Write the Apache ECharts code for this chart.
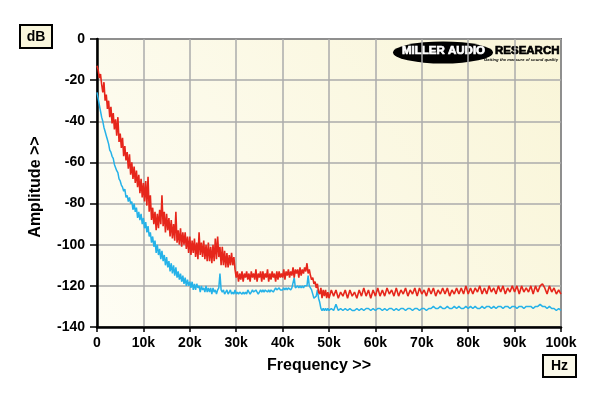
<!DOCTYPE html>
<html>
<head>
<meta charset="utf-8">
<script src="https://cdn.jsdelivr.net/npm/echarts@6/dist/echarts.min.js"></script>
<style>
html,body{margin:0;padding:0;background:#ffffff;}
#chart{width:600px;height:396px;}
</style>
</head>
<body>
<div id="chart"></div>
<script>
// Readings: 0 - 49.75 kHz every 0.25 kHz (low band), 50 - 100 kHz every 0.5 kHz (high band)
const lowStartKHz = 0, lowStepKHz = 0.25;
const highStartKHz = 50, highStepKHz = 0.5;

const xTicks = ['0','10k','20k','30k','40k','50k','60k','70k','80k','90k','100k'];
const yTicks = [0,-20,-40,-60,-80,-100,-120,-140];

// Red trace (dB), 0 - 49.75 kHz
const redLowDb = [
  // 0 - 9.75k
  -13,-15,-19,-17, -22,-26,-21,-30, -27,-34,-30,-38, -33,-41,-36,-44, -39,-47,-38,-50,
  -46,-53,-48,-57, -52,-59,-55,-63, -56,-66,-60,-68, -62,-70,-64,-72, -66,-75,-68,-77,
  // 10 - 19.75k
  -70,-79,-69,-81, -67,-84,-76,-88, -82,-90,-84,-93, -85,-92,-83,-90, -76,-91,-84,-94,
  -85,-93,-87,-96, -88,-97,-90,-98, -84,-99,-93,-100, -92,-101,-94,-100, -94,-102,-96,-104,
  // 20 - 29.75k
  -96,-105,-98,-104, -97,-106,-99,-107, -94,-105,-99,-106, -98,-107,-100,-108, -99,-108,-101,-109,
  -100,-108,-97,-107, -96,-106,-101,-110, -101,-110,-103,-111, -104,-111,-105,-110, -104,-110,-106,-112,
  // 30 - 39.75k
  -116,-113,-118,-114, -117,-113,-118,-114, -116,-113,-117,-114, -118,-113,-116,-114, -117,-112,-118,-114,
  -116,-113,-118,-113, -117,-114,-116,-112, -118,-114,-117,-113, -116,-114,-118,-113, -117,-113,-116,-114,
  // 40 - 49.75k
  -116,-112,-117,-113, -115,-112,-116,-113, -115,-111,-116,-112, -114,-112,-116,-111, -115,-112,-114,-111,
  -113,-109,-114,-112, -115,-117,-116,-119, -118,-121,-119,-123, -124,-121,-126,-122, -125,-122,-126,-123
];
// Red trace (dB), 50 - 100 kHz
const redHighDb = [
  -126,-122,-125,-122,-126,-123,-125,-122,-126,-122,-125,-123,-126,-122,-125,-121,-125,-122,-126,-122,
  -125,-121,-125,-122,-125,-121,-124,-122,-125,-121,-125,-122,-124,-121,-125,-122,-124,-121,-125,-121,
  -124,-122,-125,-121,-124,-121,-125,-122,-124,-121,-124,-121,-125,-122,-124,-121,-124,-121,-124,-120,
  -124,-121,-124,-121,-123,-120,-124,-121,-124,-120,-123,-121,-124,-120,-123,-120,-124,-121,-123,-120,
  -123,-120,-124,-120,-123,-121,-123,-120,-124,-120,-123,-120,-119,-121,-124,-120,-123,-121,-124,-122,
  -124
];

// Blue trace (dB), 0 - 49.75 kHz
const blueLowDb = [
  // 0 - 9.75k
  -26,-29,-32,-35, -38,-40,-43,-45, -47,-49,-51,-54, -55,-57,-58,-61, -61,-64,-65,-68,
  -69,-71,-72,-74, -73,-77,-76,-79, -77,-80,-79,-83, -80,-84,-82,-87, -84,-88,-85,-90,
  // 10 - 19.75k
  -87,-92,-89,-94, -91,-96,-94,-99, -96,-101,-98,-104, -100,-105,-102,-107, -103,-108,-105,-110,
  -106,-111,-108,-113, -109,-114,-110,-115, -111,-116,-113,-117, -114,-118,-115,-119, -116,-120,-117,-120,
  // 20 - 29.75k
  -118,-121,-118,-122, -119,-122,-119,-121, -120,-123,-120,-122, -121,-123,-120,-123, -121,-123,-121,-124,
  -121,-123,-122,-124, -122,-121,-114,-122, -123,-122,-124,-123, -122,-124,-123,-122, -124,-123,-124,-122,
  // 30 - 39.75k
  -124,-123,-124,-123, -123,-124,-123,-124, -123,-124,-122,-123, -124,-123,-122,-123, -123,-122,-123,-124,
  -123,-122,-123,-122, -123,-122,-122,-123, -122,-123,-122,-122, -123,-122,-121,-122, -122,-121,-122,-122,
  // 40 - 49.75k
  -122,-121,-122,-121, -122,-121,-121,-122, -121,-121,-116,-121, -121,-120,-121,-120, -121,-120,-121,-120,
  -120,-120,-115,-120, -121,-122,-124,-126, -126,-125,-122,-126, -128,-131,-132,-131, -132,-131,-132,-131
];
// Blue trace (dB), 50 - 100 kHz
const blueHighDb = [
  -132,-131,-132,-129,-132,-131,-132,-131,-132,-131,-132,-132,-131,-132,-131,-132,-131,-131,-132,-131,
  -132,-131,-131,-132,-131,-132,-131,-131,-132,-131,-132,-131,-131,-132,-131,-131,-132,-131,-131,-132,
  -131,-131,-132,-131,-131,-130,-131,-131,-130,-131,-131,-130,-131,-131,-130,-131,-130,-131,-131,-130,
  -131,-130,-131,-130,-131,-131,-130,-131,-130,-130,-131,-130,-131,-130,-130,-131,-130,-130,-131,-130,
  -130,-131,-130,-130,-131,-130,-130,-130,-131,-130,-130,-129,-130,-130,-131,-130,-131,-131,-132,-131,
  -132
];

function toPairs(lowVals, highVals){
  const a = lowVals.map((v,i)=>[lowStartKHz + i*lowStepKHz, v]);
  const b = highVals.map((v,i)=>[highStartKHz + i*highStepKHz, v]);
  return a.concat(b);
}

const chart = echarts.init(document.getElementById('chart'), null, {renderer:'canvas'});
const F = 'Liberation Sans, Arial, sans-serif';

chart.setOption({
  animation:false,
  backgroundColor:'#ffffff',
  grid:{
    left:97, top:39, width:464, height:288,
    show:true,
    borderColor:'#000', borderWidth:1.5,
    backgroundColor:{type:'linear',x:0,y:1,x2:1,y2:0,colorStops:[
      {offset:0,color:'#fefdf4'},{offset:1,color:'#f9f5d8'}]}
  },
  xAxis:{
    type:'value', min:0, max:100, interval:10,
    axisLine:{show:true,onZero:false,lineStyle:{color:'#000',width:2.5}},
    axisTick:{show:true,length:5,lineStyle:{color:'#000',width:1.5}},
    axisLabel:{margin:9,color:'#000',fontFamily:F,fontWeight:'bold',fontSize:14,
      formatter:(v)=>xTicks[Math.round(v/10)]},
    splitLine:{show:true,lineStyle:{color:'#ababab',width:1.5}}
  },
  yAxis:{
    type:'value', min:-140, max:0, interval:20,
    axisLine:{show:true,onZero:false,lineStyle:{color:'#000',width:2.5}},
    axisTick:{show:true,length:7,lineStyle:{color:'#000',width:1.5}},
    axisLabel:{margin:12,color:'#000',fontFamily:F,fontWeight:'bold',fontSize:14,
      formatter:(v)=> yTicks.includes(v) ? String(v) : ''},
    splitLine:{show:true,lineStyle:{color:'#ababab',width:1.5}}
  },
  series:[
    {type:'line',data:toPairs(blueLowDb, blueHighDb),showSymbol:false,
     lineStyle:{color:'#25b2e8',width:1.5},itemStyle:{color:'#25b2e8'}},
    {type:'line',data:toPairs(redLowDb, redHighDb),showSymbol:false,
     lineStyle:{color:'#e6261b',width:1.6},itemStyle:{color:'#e6261b'}}
  ],
  graphic:[
    {type:'rect',shape:{x:20,y:25,width:32,height:23},
     style:{fill:'#f9f6dc',stroke:'#000',lineWidth:2}},
    {type:'text',x:36,y:37,style:{text:'dB',fill:'#000',font:'bold 14px '+F,
      textAlign:'center',textVerticalAlign:'middle'}},
    {type:'rect',shape:{x:543,y:355,width:33,height:22},
     style:{fill:'#fbf9ea',stroke:'#000',lineWidth:2}},
    {type:'text',x:559.5,y:366,style:{text:'Hz',fill:'#000',font:'bold 14px '+F,
      textAlign:'center',textVerticalAlign:'middle'}},
    {type:'text',x:319,y:366,style:{text:'Frequency >>',fill:'#000',font:'bold 16px '+F,
      textAlign:'center',textVerticalAlign:'middle'}},
    {type:'text',x:36,y:187,rotation:Math.PI/2,style:{text:'Amplitude >>',fill:'#000',font:'bold 16px '+F,
      textAlign:'center',textVerticalAlign:'middle'}},
    // logo
    {type:'circle',x:443,y:52.5,scaleY:0.22,shape:{cx:0,cy:0,r:50},style:{fill:'#000'}},
    {type:'text',x:402,y:51,style:{text:'MILLER AUDIO',fill:'#fff',stroke:'#fff',lineWidth:0.7,
      font:'bold 11.5px '+F,textAlign:'left',textVerticalAlign:'middle'}},
    {type:'text',x:495,y:51,style:{text:'RESEARCH',fill:'#000',stroke:'#000',lineWidth:0.7,
      font:'bold 11.5px '+F,textAlign:'left',textVerticalAlign:'middle'}},
    {type:'text',x:558,y:59.5,style:{text:'Getting the measure of sound quality',fill:'#000',
      font:'italic bold 4.2px '+F,textAlign:'right',textVerticalAlign:'middle'}}
  ]
});
</script>
</body>
</html>
